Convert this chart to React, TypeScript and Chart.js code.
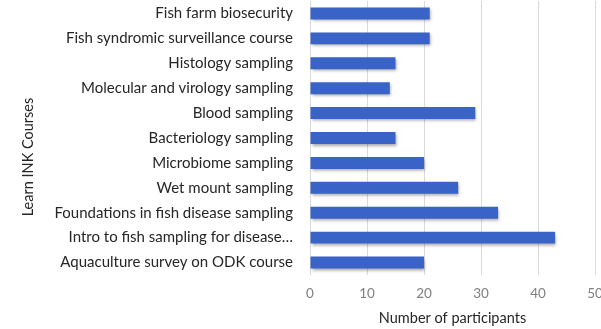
import React, { useEffect, useRef } from "react";
import { Chart, registerables } from "chart.js";

Chart.register(...registerables);

const courses = [
  "Fish farm biosecurity",
  "Fish syndromic surveillance course",
  "Histology sampling",
  "Molecular and virology sampling",
  "Blood sampling",
  "Bacteriology sampling",
  "Microbiome sampling",
  "Wet mount sampling",
  "Foundations in fish disease sampling",
  "Intro to fish sampling for disease\u2026",
  "Aquaculture survey on ODK course",
];
const participants = [21, 21, 15, 14, 29, 15, 20, 26, 33, 43, 20];
const xMin = 0;
const xMax = 50;
const xStep = 10;
const xTitle = "Number of participants";
const yTitle = "Learn INK Courses";

const FONT = "Lato, 'Liberation Sans', sans-serif";

export default function App() {
  const ref = useRef<HTMLCanvasElement | null>(null);
  useEffect(() => {
    if (!ref.current) return;
    const shadow = {
      id: "barShadow",
      beforeDatasetDraw(chart: any) {
        const c = chart.ctx;
        c.save();
        c.shadowColor = "rgba(0,0,0,0.35)";
        c.shadowBlur = 3;
        c.shadowOffsetX = 1;
        c.shadowOffsetY = 2;
      },
      afterDatasetDraw(chart: any) {
        chart.ctx.restore();
      },
    };
    const yTitlePlugin = {
      id: "yTitlePlugin",
      afterDraw(chart: any) {
        const c = chart.ctx;
        const a = chart.chartArea;
        c.save();
        c.translate(28, (a.top + a.bottom) / 2 + 19);
        c.rotate(-Math.PI / 2);
        c.font = `14.5px ${FONT}`;
        c.fillStyle = "#262626";
        c.textAlign = "center";
        c.textBaseline = "middle";
        c.fillText(yTitle, 0, 0);
        c.restore();
      },
    };
    const chart = new Chart(ref.current, {
      type: "bar",
      data: {
        labels: courses,
        datasets: [
          {
            data: participants,
            backgroundColor: "#3A63C8",
            categoryPercentage: 1,
            barPercentage: 0.48,
          },
        ],
      },
      options: {
        indexAxis: "y",
        animation: false,
        responsive: false,
        maintainAspectRatio: false,
        layout: { padding: { top: 1, right: 25, left: 0, bottom: 2 } },
        plugins: { legend: { display: false }, tooltip: { enabled: false } },
        scales: {
          x: {
            min: xMin,
            max: xMax,
            ticks: {
              stepSize: xStep,
              color: "#7f7f7f",
              font: { family: FONT, size: 13.5 },
              padding: 11,
            },
            grid: { color: "#d9d9d9", drawTicks: false },
            border: { display: false },
            title: {
              display: true,
              text: xTitle,
              color: "#262626",
              font: { family: FONT, size: 14.5 },
              padding: { top: 6, bottom: 0 },
            },
            afterFit(s: any) {
              s.height = 52;
            },
          },
          y: {
            ticks: {
              color: "#262626",
              font: { family: FONT, size: 15 },
              padding: 0,
              autoSkip: false,
            },
            grid: {
              display: true,
              drawOnChartArea: false,
              drawTicks: true,
              tickLength: 17,
              tickColor: "rgba(0,0,0,0)",
              color: "rgba(0,0,0,0)",
            },
            border: { display: false },
            afterFit(s: any) {
              s.width = 310;
              s.paddingTop = 0;
              s.paddingBottom = 0;
            },
          },
        },
      },
      plugins: [shadow, yTitlePlugin],
    });
    return () => chart.destroy();
  }, []);
  return (
    <div style={{ position: "fixed", left: 0, top: 0, width: 601, height: 329, overflow: "hidden", background: "#fff" }}>
      <canvas ref={ref} width={620} height={329} style={{ display: "block" }} />
    </div>
  );
}
